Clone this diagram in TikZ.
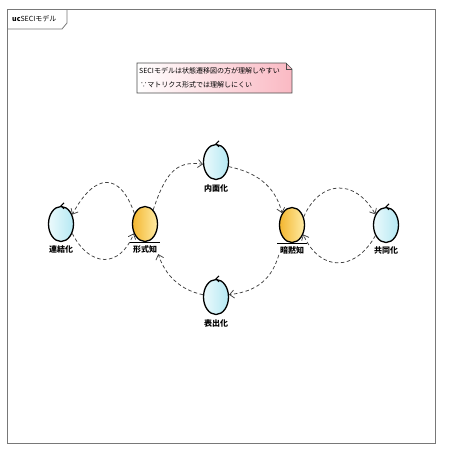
\documentclass[tikz,border=0pt]{standalone}
\usepackage{fontspec}
\setmainfont{Noto Sans CJK JP}
\usetikzlibrary{shapes.geometric,arrows.meta}
\definecolor{framegray}{RGB}{120,120,120}
\definecolor{ctlA}{RGB}{236,250,252}
\definecolor{ctlB}{RGB}{180,232,243}
\definecolor{entA}{RGB}{243,182,48}
\definecolor{entB}{RGB}{255,236,165}
\definecolor{notepink}{RGB}{250,185,195}
\begin{document}
\begin{tikzpicture}[x=1pt,y=-1pt,
  ctl/.style={ellipse, draw=black, line width=1.3pt, minimum width=25pt, minimum height=35pt, inner sep=0pt, left color=ctlA, right color=ctlB},
  ent/.style={ellipse, draw=black, line width=1.3pt, minimum width=25pt, minimum height=35pt, inner sep=0pt, left color=entA, right color=entB},
  lbl/.style={font=\bfseries\fontsize{8}{9}\selectfont, inner sep=1pt},
  flow/.style={draw=black!75, dash pattern=on 3.5pt off 2.5pt, line width=0.75pt, -{Straight Barb[length=4.5pt,width=8pt,line width=0.75pt]}},
  ctlmark/.style={line width=1pt, black},
  baseline/.style={line width=1.3pt, black},
]
\useasboundingbox (0,0) rectangle (453,453);
% frame
\draw[framegray, line width=1pt] (7,9) rectangle (435,443);
\draw[framegray, line width=0.8pt] (7,29) -- (62,29) -- (67,23) -- (67,9);
\node[anchor=west, font=\fontsize{7}{8}\selectfont, inner sep=0pt] (title) at (12,19) {\textbf{uc}SECIモデル};
% note
\path[draw=black!70, line width=0.6pt, left color=white, right color=notepink] (137,63) -- (286,63) -- (292,69) -- (292,93) -- (137,93) -- cycle;
\draw[black!70, line width=0.6pt] (286,63) -- (286,69) -- (292,69);
\node[anchor=north west, align=left, font=\fontsize{7}{14}\selectfont, inner sep=0pt] (note) at (139,67) {SECIモデルは状態遷移図の方が理解しやすい\\\,∵マトリクス形式では理解しにくい};
% nodes
\node[ent] (F) at (145,224) {};
\node[ctl] (R) at (61,224) {};
\node[ctl] (N) at (216,162) {};
\node[ent] (A) at (292,225) {};
\node[ctl] (K) at (386,225) {};
\node[ctl] (H) at (216,297) {};
\node[lbl] (FL) at (145,249) {形式知};
\node[lbl] (RL) at (61,249) {連結化};
\node[lbl] (NL) at (216,188) {内面化};
\node[lbl] (AL) at (292,250) {暗黙知};
\node[lbl] (KL) at (386,250) {共同化};
\node[lbl] (HL) at (216,323) {表出化};
% entity base lines
\foreach \n in {F,A}{
  \draw[baseline] ([xshift=-15pt]\n.south) -- ([xshift=15pt]\n.south);
}
% control marks
\foreach \n in {R,N,K,H}{
  \draw[ctlmark] ([shift={(3,-3)}]\n.north) -- (\n.north) -- ([shift={(3,3)}]\n.north);
}
% flows
\draw[flow] (F.135) .. controls (120,172) and (95,172) .. (R.40);
\draw[flow] (R.-40) .. controls (90,268) and (120,268) .. (F.-140);
\draw[flow] (F.60) .. controls (165,175) and (175,160) .. (N.190);
\draw[flow] (N.-20) .. controls (255,172) and (275,185) .. (A.130);
\draw[flow] (A.35) .. controls (320,180) and (355,178) .. (K.135);
\draw[flow] (K.-135) .. controls (355,272) and (320,272) .. (A.-40);
\draw[flow] (AL.south west) .. controls (270,285) and (250,292) .. (H.10);
\draw[flow] (H.170) .. controls (180,290) and (165,275) .. (FL.south east);
\end{tikzpicture}
\end{document}
